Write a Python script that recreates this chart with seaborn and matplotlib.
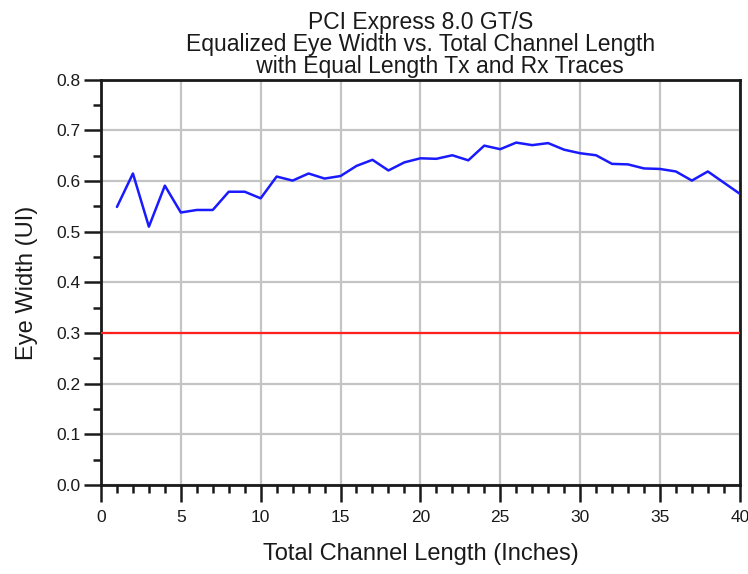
import numpy as np
import pandas as pd
import matplotlib
matplotlib.use("Agg")
import matplotlib.pyplot as plt
from matplotlib.ticker import MultipleLocator, FormatStrFormatter
import seaborn as sns

# Channel length (inches) and equalized eye width (UI)
length_in = list(range(1, 41))
eye_width = [0.549, 0.615, 0.510, 0.591, 0.538, 0.543, 0.543, 0.579, 0.579, 0.566,
             0.609, 0.601, 0.615, 0.605, 0.610, 0.630, 0.642, 0.621, 0.637, 0.645,
             0.644, 0.651, 0.641, 0.670, 0.663, 0.676, 0.671, 0.675, 0.662, 0.655,
             0.651, 0.634, 0.633, 0.625, 0.624, 0.619, 0.601, 0.619, 0.597, 0.575]
limit_ui = 0.3

title_lines = ["PCI Express 8.0 GT/S",
               "Equalized Eye Width vs. Total Channel Length",
               "      with Equal Length Tx and Rx Traces"]

sns.set_style("ticks")
plt.rcParams['font.family'] = ['Liberation Sans', 'DejaVu Sans']

df = pd.DataFrame({'length': length_in, 'eye': eye_width})

fig = plt.figure(figsize=(7.48, 5.74), dpi=100)
ax = fig.add_axes([0.135, 0.155, 0.854, 0.706])

# red limit line and the measured eye width
ax.axhline(limit_ui, color='#ff2020', lw=1.6, zorder=3)
sns.lineplot(data=df, x='length', y='eye', color='#1a1aff', lw=1.8, ax=ax, zorder=4)

ax.set_xlim(0, 40)
ax.set_ylim(0, 0.8)
ax.xaxis.set_major_locator(MultipleLocator(5))
ax.xaxis.set_minor_locator(MultipleLocator(1))
ax.yaxis.set_major_locator(MultipleLocator(0.1))
ax.yaxis.set_minor_locator(MultipleLocator(0.05))
ax.yaxis.set_major_formatter(FormatStrFormatter('%.1f'))

ax.grid(True, which='major', color='#c4c4c4', lw=1.6)
ax.set_axisbelow(True)

ax.tick_params(which='major', direction='out', length=12, width=1.8,
               labelsize=12.5, colors='#1a1a1a', pad=3)
ax.tick_params(axis='x', which='major', pad=6)
ax.tick_params(which='minor', direction='out', length=6, width=1.8, colors='#1a1a1a')
for sp in ax.spines.values():
    sp.set_linewidth(2)
    sp.set_color('#1a1a1a')

ax.set_xlabel('Total Channel Length (Inches)', fontsize=17, labelpad=13, color='#1a1a1a')
ax.set_ylabel('Eye Width (UI)', fontsize=17, labelpad=13, color='#1a1a1a')
ax.set_title("\n".join(title_lines), fontsize=16.5, linespacing=0.95, pad=5, color='#1a1a1a')

fig.savefig('out.png', dpi=100)
plt.close(fig)
